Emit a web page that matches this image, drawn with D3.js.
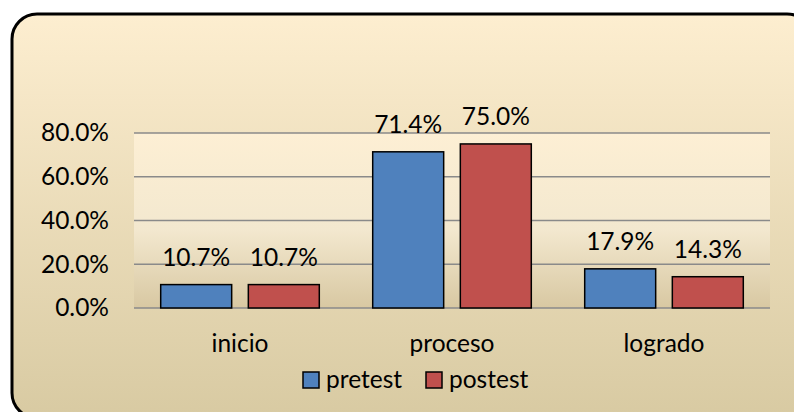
<!DOCTYPE html>
<html>
<head>
<meta charset="utf-8">
<script src="https://cdn.jsdelivr.net/npm/d3@7"></script>
<style>
  body { margin: 0; background: #fff; }
  svg { display: block; font-family: Lato, "Open Sans", sans-serif; }
</style>
</head>
<body>
<svg width="794" height="412"></svg>
<script>
var categories = ['inicio', 'proceso', 'logrado']
var seriesNames = ['pretest', 'postest']
var pretest = [10.7, 71.4, 17.9]
var postest = [10.7, 75.0, 14.3]
var yTicks = [0, 20, 40, 60, 80]
var colors = ['#4f81bd', '#c0504d']

var svg = d3.select('svg')
var defs = svg.append('defs')
var fontSize = '24.5px'

var outerGrad = defs.append('linearGradient').attr('id', 'outerGrad')
    .attr('x1', 0).attr('y1', 0).attr('x2', 0).attr('y2', 1)
outerGrad.append('stop').attr('offset', '0%').attr('stop-color', '#fdeed0')
outerGrad.append('stop').attr('offset', '100%').attr('stop-color', '#d8caa2')

var plotGrad = defs.append('linearGradient').attr('id', 'plotGrad')
    .attr('x1', 0).attr('y1', 0).attr('x2', 0).attr('y2', 1)
plotGrad.append('stop').attr('offset', '0%').attr('stop-color', '#fdefd4')
plotGrad.append('stop').attr('offset', '55%').attr('stop-color', '#f3e8cf')
plotGrad.append('stop').attr('offset', '100%').attr('stop-color', '#d8c8a2')

// chart frame
svg.append('rect')
    .attr('x', 12).attr('y', 14)
    .attr('width', 800).attr('height', 404)
    .attr('rx', 25).attr('ry', 25)
    .attr('fill', 'url(#outerGrad)')
    .attr('stroke', '#000')
    .attr('stroke-width', 3)

var plotLeft = 134, plotRight = 770, plotTop = 133, plotBottom = 308

var x0 = d3.scaleBand().domain(categories).range([plotLeft, plotRight]).paddingInner(0).paddingOuter(0)
var x1 = d3.scaleBand().domain(seriesNames).range([26.7, x0.bandwidth() - 26.7]).paddingInner(0.19)
var y = d3.scaleLinear().domain([0, 80]).range([plotBottom, plotTop])

svg.append('rect')
    .attr('x', plotLeft).attr('y', plotTop)
    .attr('width', plotRight - plotLeft).attr('height', plotBottom - plotTop)
    .attr('fill', 'url(#plotGrad)')

// gridlines
svg.append('g').selectAll('line')
    .data(yTicks)
    .enter()
    .append('line')
    .attr('x1', plotLeft).attr('x2', plotRight)
    .attr('y1', function(d) { return y(d) })
    .attr('y2', function(d) { return y(d) })
    .attr('stroke', '#8a8a8a')
    .attr('stroke-width', 1.5)

var yAxis = svg.append('g')
    .attr('transform', 'translate(' + plotLeft + ',0)')
    .call(d3.axisLeft(y).tickValues(yTicks).tickSize(0).tickPadding(25)
      .tickFormat(function(d) { return d.toFixed(1) + '%' }))
yAxis.select('.domain').remove()
yAxis.selectAll('text').attr('font-size', fontSize).attr('fill', '#000')
    .attr('font-family', 'Lato, sans-serif')

var xAxis = svg.append('g')
    .attr('transform', 'translate(0,' + plotBottom + ')')
    .call(d3.axisBottom(x0).tickSize(0).tickPadding(27))
xAxis.select('.domain').remove()
xAxis.selectAll('text').attr('font-size', fontSize).attr('fill', '#000')
    .attr('font-family', 'Lato, sans-serif')

var rows = categories.map(function(c, i) {
  return { cat: c, values: [pretest[i], postest[i]] }
})

var groups = svg.append('g').selectAll('g')
    .data(rows)
    .enter()
    .append('g')
    .attr('transform', function(d) { return 'translate(' + x0(d.cat) + ',0)' })

groups.selectAll('rect')
    .data(function(d) { return d.values.map(function(v, j) { return { s: seriesNames[j], v: v, j: j } }) })
    .enter()
    .append('rect')
    .attr('x', function(d) { return x1(d.s) })
    .attr('width', x1.bandwidth())
    .attr('y', function(d) { return y(d.v) })
    .attr('height', function(d) { return y(0) - y(d.v) })
    .attr('fill', function(d) { return colors[d.j] })
    .attr('stroke', '#000')
    .attr('stroke-width', 1.5)

groups.selectAll('text.lbl')
    .data(function(d) { return d.values.map(function(v, j) { return { s: seriesNames[j], v: v } }) })
    .enter()
    .append('text')
    .attr('class', 'lbl')
    .attr('x', function(d) { return x1(d.s) + x1.bandwidth() / 2 })
    .attr('y', function(d) { return y(d.v) - 19 })
    .attr('text-anchor', 'middle')
    .attr('font-size', fontSize)
    .text(function(d) { return d.v.toFixed(1) + '%' })

// legend
var legendX = [303, 426]
var legend = svg.append('g').selectAll('g')
    .data(seriesNames)
    .enter()
    .append('g')
    .attr('transform', function(d, i) { return 'translate(' + legendX[i] + ',372)' })

legend.append('rect')
    .attr('width', 16).attr('height', 16)
    .attr('fill', function(d, i) { return colors[i] })
    .attr('stroke', '#000')
    .attr('stroke-width', 1.5)

legend.append('text')
    .attr('x', 23).attr('y', 16)
    .attr('font-size', fontSize)
    .text(function(d) { return d })
</script>
</body>
</html>
